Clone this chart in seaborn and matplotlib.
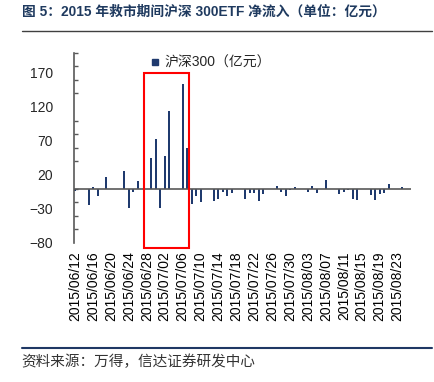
import numpy as np
import pandas as pd
import matplotlib
matplotlib.use("Agg")
import matplotlib.pyplot as plt
import matplotlib.dates as mdates
from matplotlib.patches import Rectangle
from matplotlib.lines import Line2D
from matplotlib.ticker import FixedLocator
import seaborn as sns

# 数据：2015 年救市期间沪深300ETF 每日净流入（亿元）
dates = [
    "2015-06-12", "2015-06-15", "2015-06-16", "2015-06-17", "2015-06-18", "2015-06-19",
    "2015-06-23", "2015-06-24", "2015-06-25", "2015-06-26",
    "2015-06-29", "2015-06-30", "2015-07-01", "2015-07-02", "2015-07-03",
    "2015-07-06", "2015-07-07", "2015-07-08", "2015-07-09", "2015-07-10",
    "2015-07-13", "2015-07-14", "2015-07-15", "2015-07-16", "2015-07-17",
    "2015-07-20", "2015-07-21", "2015-07-22", "2015-07-23", "2015-07-24",
    "2015-07-27", "2015-07-28", "2015-07-29", "2015-07-30", "2015-07-31",
    "2015-08-03", "2015-08-04", "2015-08-05", "2015-08-06", "2015-08-07",
    "2015-08-10", "2015-08-11", "2015-08-12", "2015-08-13", "2015-08-14",
    "2015-08-17", "2015-08-18", "2015-08-19", "2015-08-20", "2015-08-21",
    "2015-08-24",
]
inflow = [
    -4, -24, 3, -11, 0, 16.5,
    26.5, -28.5, -5, 11.5,
    45, 72.5, -29, 47.5, 114.5,
    154, 59, -22.5, -11, -20.5,
    -18.6, -15, -5, -11, -6,
    -15.7, -7, -7, -18.6, -8.3,
    4.4, -5, -10.8, -2, 2.5,
    -4.4, 4, -6, 0, 12.3,
    -7.4, -5, -2.5, -14.7, -17,
    -9.8, -17, -7.4, -6.9, 6.4,
    2.5,
]
series_name = "沪深300（亿元）"
title = "图 5：2015 年救市期间沪深 300ETF 净流入（单位：亿元）"
source = "资料来源：万得，信达证券研发中心"
y_labels = [-80, -30, 20, 70, 120, 170]
highlight = ("2015-06-27 10:00", "2015-07-07 10:00")

df = pd.DataFrame({"date": pd.to_datetime(dates), "inflow": inflow})
df["x"] = mdates.date2num(df["date"])

sns.set_theme(style="white")
plt.rcParams["font.family"] = ["Liberation Sans", "Noto Sans CJK SC"]

navy = "#1f3a6e"
gray = "#595959"

fig = plt.figure(figsize=(4.34, 3.82), dpi=100)
ax = fig.add_axes([0.1705, 0.364, 0.7765, 0.4985])

sns.barplot(data=df, x="x", y="inflow", native_scale=True, width=0.45,
            color=navy, saturation=1, linewidth=0, ax=ax)

x0 = mdates.date2num(pd.Timestamp("2015-06-12")) - 0.25
x1 = mdates.date2num(pd.Timestamp("2015-08-26"))
ax.set_xlim(x0, x1)
ax.set_ylim(-80, 200)
ax.axhline(0, color=gray, lw=1.2, zorder=1)

# x 轴：每 4 天一个标签
tick_days = pd.date_range("2015-06-12", "2015-08-23", freq="4D")
ax.set_xticks(mdates.date2num(tick_days))
ax.set_xticklabels([d.strftime("%Y/%m/%d") for d in tick_days], rotation=90)
ax.tick_params(axis="x", length=0, pad=6, labelsize=10, colors="#000000")

# y 轴
ax.set_yticks(y_labels)
ax.yaxis.set_minor_locator(FixedLocator(np.arange(-80, 201, 20)))
ax.tick_params(axis="y", which="major", length=0, pad=15, labelsize=10)
ax.tick_params(axis="y", which="minor", length=3, direction="in", color=gray, left=True)
ax.set_yticklabels([str(v).replace("-", "\u2212") for v in y_labels])
ax.set_xlabel("")
ax.set_ylabel("")
for s in ["top", "right", "bottom"]:
    ax.spines[s].set_visible(False)
ax.spines["left"].set_color(gray)
ax.spines["left"].set_linewidth(1.2)

# 红框
hx0 = mdates.date2num(pd.Timestamp(highlight[0]))
hx1 = mdates.date2num(pd.Timestamp(highlight[1]))
ax.add_patch(Rectangle((hx0, -87), hx1 - hx0, 257, fill=False, edgecolor="#ff0000",
                       lw=1.5, clip_on=False, zorder=5))

handle = Line2D([], [], marker="s", ls="", color=navy, markersize=5)
ax.legend(handles=[handle], labels=[series_name], loc="upper left",
          bbox_to_anchor=(0.19, 1.05), frameon=False,
          handlelength=0.6, handletextpad=0.4, fontsize=10)

# 标题、分隔线、资料来源
fig.text(0.05, 0.969, title, fontsize=9.9, fontweight="bold", color="#1f3a5f", va="center")
fig.add_artist(Line2D([0.05, 0.995], [1 - 31 / 382] * 2, color="#404040", lw=1))
fig.add_artist(Line2D([0.05, 0.995], [1 - 348 / 382] * 2, color="#1f3864", lw=1.5))
fig.text(0.05, 1 - 362 / 382, source, fontsize=10.5, color="#333333", va="center",
         style="italic")

fig.savefig("out.png", dpi=100)
